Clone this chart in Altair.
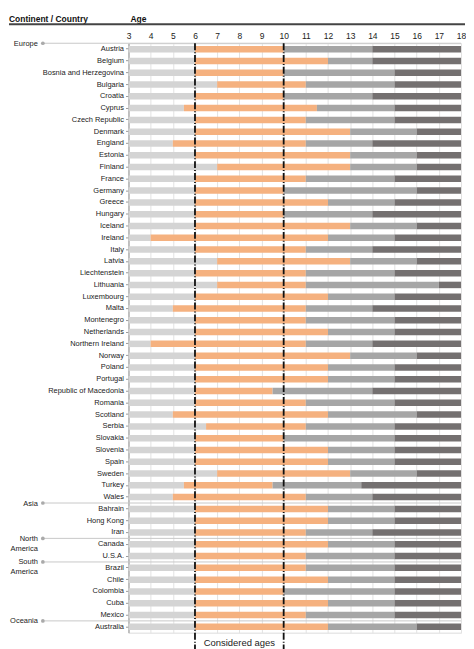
import altair as alt
import pandas as pd

countries = ["Austria", "Belgium", "Bosnia and Herzegovina", "Bulgaria", "Croatia", "Cyprus",
             "Czech Republic", "Denmark", "England", "Estonia", "Finland", "France", "Germany",
             "Greece", "Hungary", "Iceland", "Ireland", "Italy", "Latvia", "Liechtenstein",
             "Lithuania", "Luxembourg", "Malta", "Montenegro", "Netherlands", "Northern Ireland",
             "Norway", "Poland", "Portugal", "Republic of Macedonia", "Romania", "Scotland",
             "Serbia", "Slovakia", "Slovenia", "Spain", "Sweden", "Turkey", "Wales",
             "Bahrain", "Hong Kong", "Iran", "Canada", "U.S.A.", "Brazil", "Chile", "Colombia",
             "Cuba", "Mexico", "Australia"]
# age at which each stage starts
primary_start = [6, 6, 6, 7, 6, 5.5, 6, 6, 5, 6, 7, 6, 6, 6, 6, 6, 4, 6, 7, 6,
                 7, 6, 5, 6, 6, 4, 6, 6, 6, 6, 6, 5, 6.5, 6, 6, 6, 7, 5.5, 5,
                 6, 6, 6, 6, 6, 6, 6, 6, 6, 6, 6]
lower_sec_start = [10, 12, 10, 11, 10, 11.5, 11, 13, 11, 13, 13, 11, 10, 12, 10, 13, 12, 11, 13, 11,
                   11, 12, 11, 11, 12, 11, 13, 12, 12, 9.5, 11, 12, 11, 10, 12, 12, 13, 9.5, 11,
                   12, 12, 11, 12, 11, 11, 12, 10, 12, 11, 12]
upper_sec_start = [14, 14, 15, 15, 14, 15, 15, 16, 14, 16, 16, 15, 16, 15, 14, 16, 15, 14, 16, 15,
                   17, 15, 14, 15, 15, 14, 16, 15, 15, 14, 15, 16, 15, 15, 15, 15, 16, 13.5, 14,
                   15, 15, 14, 15, 15, 15, 15, 15, 15, 15, 16]
age_min, age_max = 3, 18
age_ticks = list(range(age_min, age_max + 1))
levels = ["Pre-primary", "Primary", "Lower secondary", "Upper secondary"]
level_colors = ["#d4d4d4", "#f5b17f", "#a6a6a6", "#747070"]

continents = ["Europe", "Asia", "North\nAmerica", "South\nAmerica", "Oceania"]
continent_first = ["Austria", "Bahrain", "Canada", "Brazil", "Australia"]
considered = [6, 10]
considered_label = "Considered ages"
header_left = "Continent / Country"
header_age = "Age"

rows = []
for c, a, b, d in zip(countries, primary_start, lower_sec_start, upper_sec_start):
    bounds = [age_min, a, b, d, age_max]
    for i, lev in enumerate(levels):
        rows.append({"country": c, "level": lev, "start": bounds[i], "end": bounds[i + 1]})
bars_df = pd.DataFrame(rows)
cont_df = pd.DataFrame({"continent": continents, "country": continent_first})

W = 334
H = 592
step = H / len(countries)
pad = 0.45

xscale = alt.Scale(domain=[age_min, age_max], nice=False, zero=False)
yscale = alt.Scale(domain=countries, paddingInner=pad, paddingOuter=pad / 2)
xaxis = alt.Axis(orient="top", values=age_ticks, title=None, tickCount=len(age_ticks),
                 ticks=False, domain=False, grid=True, gridColor="#e2e2e2",
                 labelFontSize=8.5, labelColor="#222", labelPadding=3, labelFlush=False,
                 labelOverlap=False, labelFont="Liberation Sans")
yaxis = alt.Axis(title=None, labelFontSize=7.5, labelColor="#222", tickSize=3,
                 tickColor="#999", domainColor="#999", labelPadding=2, labelOverlap=False,
                 labelFont="Liberation Sans", grid=False, labelLimit=200)

bars = alt.Chart(bars_df).mark_bar().encode(
    x=alt.X("start:Q", scale=xscale, axis=xaxis),
    x2="end:Q",
    y=alt.Y("country:N", scale=yscale, sort=countries, axis=yaxis),
    color=alt.Color("level:N", scale=alt.Scale(domain=levels, range=level_colors), legend=None),
)

ysep = alt.Y("country:N", scale=yscale, sort=countries, bandPosition=0, axis=yaxis)
sep = alt.Chart(cont_df).mark_rule(color="#c8c8c8", strokeWidth=1, yOffset=-step * pad / 2).encode(
    y=ysep, x=alt.value(-86), x2=alt.value(W),
)
dots = alt.Chart(cont_df).mark_circle(color="#aaaaaa", size=14, opacity=1, yOffset=-step * pad / 2).encode(
    y=ysep, x=alt.value(-86),
)
cont_text = alt.Chart(cont_df).mark_text(align="right", baseline="alphabetic", fontSize=7.5,
                                          color="#222", lineBreak="\n", lineHeight=10,
                                          font="Liberation Sans", yOffset=-step * pad / 2 + 2.5).encode(
    y=ysep, x=alt.value(-91), text="continent:N",
)

cons_df = pd.DataFrame({"age": considered})
dashes = alt.Chart(cons_df).mark_rule(color="#111", strokeWidth=1.8, strokeDash=[7, 2, 1, 1.84]).encode(
    x=alt.X("age:Q", scale=xscale, axis=xaxis),
    y=alt.value(0), y2=alt.value(H + 20),
)
cons_text = alt.Chart(pd.DataFrame({"age": [sum(considered) / 2], "t": [considered_label]})).mark_text(
    fontSize=9.5, color="#222", baseline="middle", font="Liberation Sans").encode(
    x=alt.X("age:Q", scale=xscale, axis=xaxis), y=alt.value(H + 10), text="t:N")

hdr_style = dict(align="left", baseline="alphabetic", fontSize=8.5, fontWeight="bold",
                 color="#111", font="Liberation Sans")
hdr1 = alt.Chart(pd.DataFrame({"t": [header_left]})).mark_text(**hdr_style).encode(
    x=alt.value(-120), y=alt.value(-21.5), text="t:N")
hdr2 = alt.Chart(pd.DataFrame({"t": [header_age]})).mark_text(**hdr_style).encode(
    x=alt.value(2), y=alt.value(-21.5), text="t:N")
hdr_rule = alt.Chart(pd.DataFrame({"t": [header_left]})).mark_rule(color="#444", strokeWidth=2).encode(
    x=alt.value(-120), x2=alt.value(W + 4), y=alt.value(-19))

chart = alt.layer(bars, sep, dots, cont_text, dashes, cons_text, hdr1, hdr2, hdr_rule).properties(
    width=W, height=H, padding={"left": 0, "top": 5, "right": 0, "bottom": 0}
).configure_view(stroke=None).configure_axis(labelOverlap=False).configure(background="white")

chart.save("out.html", embed_options={"renderer": "svg", "actions": False})
